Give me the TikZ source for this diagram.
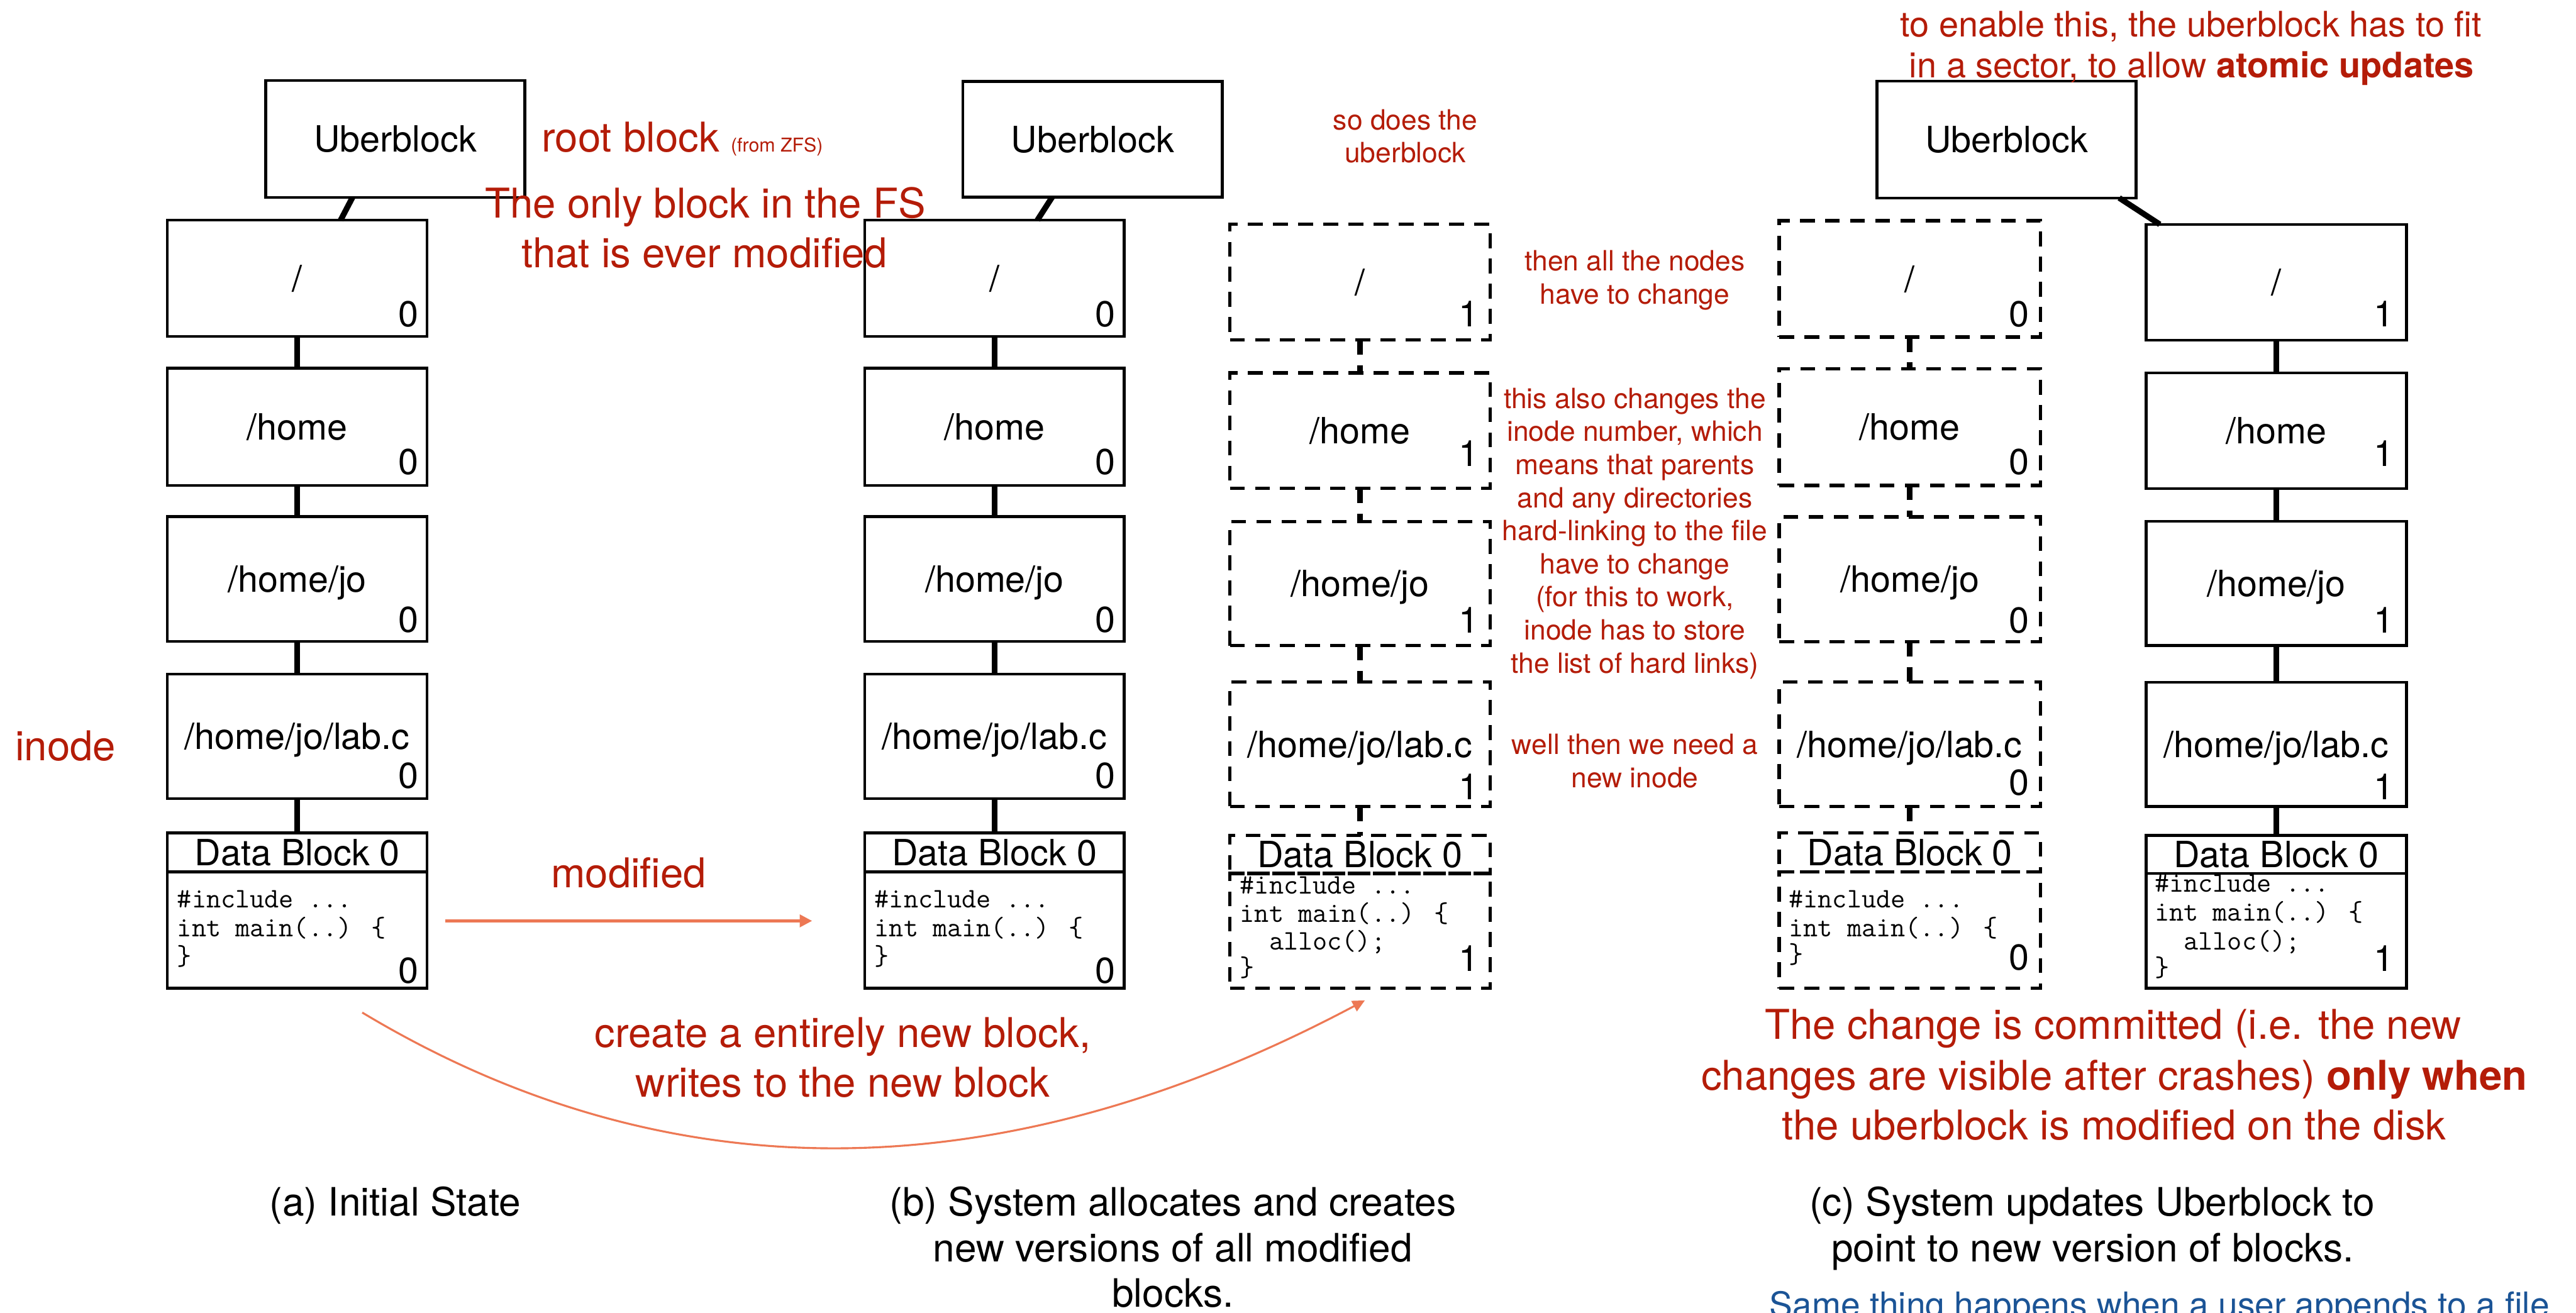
\documentclass[tikz,border=0pt]{standalone}
\usepackage{fontspec}
\setmainfont{TeX Gyre Heros}
\usetikzlibrary{fit,arrows.meta,calc}
\definecolor{annred}{RGB}{180,28,8}
\definecolor{arrorange}{RGB}{237,120,84}
\definecolor{noteblue}{RGB}{27,84,150}
\tikzset{
  box/.style={draw=black, line width=1.7pt, inner sep=0pt, outer sep=0pt},
  dbox/.style={draw=black, line width=2pt, dash pattern=on 9pt off 6.3pt, inner sep=0pt, outer sep=0pt},
  link/.style={line width=3.5pt},
  dlink/.style={line width=3.5pt, dash pattern=on 9pt off 6.3pt},
  lbl/.style={inner sep=0pt, font=\fontsize{22}{26}\selectfont, anchor=base},
  num/.style={inner sep=0pt, font=\fontsize{22}{26}\selectfont, anchor=base east},
  code/.style={inner sep=0pt, font=\fontsize{17.2}{20}\ttfamily, anchor=base west},
  note/.style={inner sep=0pt, text=annred, font=\fontsize{17}{20}\selectfont, anchor=base},
  bignote/.style={inner sep=0pt, text=annred, font=\fontsize{25}{30}\selectfont, anchor=base},
  topnote/.style={inner sep=0pt, text=annred, font=\fontsize{21.4}{25}\selectfont, anchor=base},
  capt/.style={inner sep=0pt, font=\fontsize{23.8}{28}\selectfont, anchor=base},
  bluenote/.style={inner sep=0pt, text=noteblue, font=\fontsize{21.1}{25}\selectfont, anchor=base},
  orangearrow/.style={draw=arrorange, line width=1.6pt, -{Triangle[length=7.5pt,width=7.5pt]}},
  curvearrow/.style={draw=arrorange, line width=1.2pt, -{Triangle[length=7.5pt,width=7pt]}},
}
% name, style, x1, y1, x2, y2, label, digit position, digit
\newcommand\ibox[9]{%
  \node[#2, fit={(#3,#4) (#5,#6)}] (#1) {};
  \node[lbl] (#1t) at ({(#3+#5)/2},{(#4+#6)/2+7.9}) {#7};
  \node[num] (#1n) at (#8) {#9};
}
% name, style, x1, ytop, x2, ysplit, ybottom, digit position, digit
\newcommand\datablk[9]{%
  \node[#2, fit={(#3,#4) (#5,#6)}] (#1h) {};
  \node[#2, fit={(#3,#6) (#5,#7)}] (#1b) {};
  \node[lbl] (#1ht) at ({(#3+#5)/2},{(#4+#6)/2+7.9}) {Data Block 0};
  \node[num] (#1n) at (#8) {#9};
}
\begin{document}
\begin{tikzpicture}[x=1pt,y=-1pt]
\useasboundingbox (0,0) rectangle (1568,799);
\fill[white] (0,0) rectangle (1568,799);

% ---------------- column (a)
\node[box, fit={(161.8,49.1) (319.5,120.2)}] (ua) {};
\node[lbl] (uat) at (240.65,92.5) {Uberblock};
\ibox{a1}{box}{101.9}{134}{260}{204.8}{/}{255,198.9}{0}
\ibox{a2}{box}{101.9}{224.2}{260}{295.5}{/home}{255,289}{0}
\ibox{a3}{box}{101.9}{314.5}{260}{390.4}{/home/jo}{255,385}{0}
\ibox{a4}{box}{101.9}{410.3}{260}{486.2}{/home/jo/lab.c}{255,480}{0}
\datablk{ad}{box}{101.9}{507}{260}{530.8}{601.6}{255,598.4}{0}
\node[code] (adc1) at (107.7,552.6) {\#include ...};
\node[code] (adc2) at (107.7,570.2) {int main(..) \{};
\node[code] (adc3) at (107.7,587.5) {\}};
\draw[link] ([xshift=-26.1pt]ua.south) -- ([xshift=26.4pt]a1.north);
\draw[link] (a1.south) -- (a2.north);
\draw[link] (a2.south) -- (a3.north);
\draw[link] (a3.south) -- (a4.north);
\draw[link] (a4.south) -- (adh.north);

% ---------------- column (b)
\node[box, fit={(586.1,49.5) (744,120)}] (ub) {};
\node[lbl] (ubt) at (665.05,92.7) {Uberblock};
\ibox{b1}{box}{526.4}{134}{684.3}{204.8}{/}{679.2,198.9}{0}
\ibox{b2}{box}{526.4}{224.2}{684.3}{295.5}{/home}{679.2,289}{0}
\ibox{b3}{box}{526.4}{314.5}{684.3}{390.4}{/home/jo}{679.2,385}{0}
\ibox{b4}{box}{526.4}{410.3}{684.3}{486.2}{/home/jo/lab.c}{679.2,480}{0}
\datablk{bd}{box}{526.4}{507}{684.3}{530.8}{601.6}{679.2,598.4}{0}
\node[code] (bdc1) at (532.2,552.6) {\#include ...};
\node[code] (bdc2) at (532.2,570.2) {int main(..) \{};
\node[code] (bdc3) at (532.2,587.5) {\}};
\draw[link] ([xshift=-24.6pt]ub.south) -- ([xshift=26.1pt]b1.north);
\draw[link] (b1.south) -- (b2.north);
\draw[link] (b2.south) -- (b3.north);
\draw[link] (b3.south) -- (b4.north);
\draw[link] (b4.south) -- (bdh.north);

% ---------------- column (b') new dashed copies
\ibox{p1}{dbox}{748.6}{136.6}{907}{207}{/}{900.5,198.7}{1}
\ibox{p2}{dbox}{748.6}{227}{907}{297.4}{/home}{900.5,283.9}{1}
\ibox{p3}{dbox}{748.6}{317.4}{907}{393}{/home/jo}{900.5,385.3}{1}
\ibox{p4}{dbox}{748.6}{415.3}{907}{491}{/home/jo/lab.c}{900.5,486.7}{1}
\datablk{pd}{dbox}{748.6}{508.6}{907}{531.7}{601.6}{900.5,591.3}{1}
\node[code] (pdc1) at (754.6,544) {\#include ...};
\node[code] (pdc2) at (754.6,561.3) {int main(..) \{};
\node[code] (pdc3) at (754.6,578.4) {\hphantom{xx}alloc();};
\node[code] (pdc4) at (754.6,594.5) {\}};
\draw[dlink] (p1.south) -- (p2.north);
\draw[dlink] (p2.south) -- (p3.north);
\draw[dlink] (p3.south) -- (p4.north);
\draw[dlink] (p4.south) -- (pdh.north);

% ---------------- column (c) old dashed blocks
\ibox{q1}{dbox}{1083}{134.4}{1242}{205.2}{/}{1235.5,198.7}{0}
\ibox{q2}{dbox}{1083}{224.4}{1242}{295.5}{/home}{1235.5,288.8}{0}
\ibox{q3}{dbox}{1083}{314.7}{1242}{390.7}{/home/jo}{1235.5,385.3}{0}
\ibox{q4}{dbox}{1083}{415.3}{1242}{491}{/home/jo/lab.c}{1235.5,484}{0}
\datablk{qd}{dbox}{1083}{507}{1242}{530.8}{601.6}{1235.5,590.5}{0}
\node[code] (qdc1) at (1088.7,552.6) {\#include ...};
\node[code] (qdc2) at (1088.7,570.3) {int main(..) \{};
\node[code] (qdc3) at (1088.7,586.4) {\}};
\draw[dlink] (q1.south) -- (q2.north);
\draw[dlink] (q2.south) -- (q3.north);
\draw[dlink] (q3.south) -- (q4.north);
\draw[dlink] (q4.south) -- (qdh.north);

% ---------------- column (c) new solid blocks
\node[box, fit={(1142.5,49.3) (1300.2,120.5)}] (uc) {};
\node[lbl] (uct) at (1221.35,92.8) {Uberblock};
\ibox{r1}{box}{1306.3}{136.6}{1464.8}{207}{/}{1457.3,198.7}{1}
\ibox{r2}{box}{1306.3}{227}{1464.8}{297.4}{/home}{1457.3,283.9}{1}
\ibox{r3}{box}{1306.3}{317.4}{1464.8}{393}{/home/jo}{1457.3,385.3}{1}
\ibox{r4}{box}{1306.3}{415.3}{1464.8}{491}{/home/jo/lab.c}{1457.3,486.7}{1}
\datablk{rd}{box}{1306.3}{508.6}{1464.8}{531.7}{601.6}{1457.3,591.3}{1}
\node[code] (rdc1) at (1311.4,543) {\#include ...};
\node[code] (rdc2) at (1311.4,560.7) {int main(..) \{};
\node[code] (rdc3) at (1311.4,578.4) {\hphantom{xx}alloc();};
\node[code] (rdc4) at (1311.4,594.5) {\}};
\draw[link] ([xshift=68.6pt]uc.south) -- ([xshift=-70.9pt]r1.north);
\draw[link] (r1.south) -- (r2.north);
\draw[link] (r2.south) -- (r3.north);
\draw[link] (r3.south) -- (r4.north);
\draw[link] (r4.south) -- (rdh.north);

% ---------------- arrows
\coordinate (modA) at (271.2,560.6);
\coordinate (modB) at (494.3,560.6);
\draw[orangearrow] (modA) -- (modB);
\coordinate (crA) at (220.5,616.4);
\coordinate (crB) at (830.8,609);
\draw[curvearrow] (crA) .. controls (407,728.5) and (610.5,726) .. (crB);

% ---------------- annotations
\node[bignote, anchor=base west] (root) at (329.6,92.4) {root block {\fontsize{11.6}{14}\selectfont(from ZFS)}};
\node[bignote] (only1) at (429.4,132.8) {The only block in the FS};
\node[bignote] (only2) at (428.9,163) {that is ever modified};
\node[bignote] (inode) at (39.9,463.2) {inode};
\node[bignote] (modif) at (382.7,540.5) {modified};
\node[bignote] (creat1) at (513,637.4) {create a entirely new block,};
\node[bignote] (creat2) at (513,668) {writes to the new block};

\node[note] (sod1) at (855.4,79) {so does the};
\node[note] (sod2) at (855.4,99.1) {uberblock};
\node[note] (then1) at (995.1,164.9) {then all the nodes};
\node[note] (then2) at (995.1,185.1) {have to change};
\node[note] (hl1) at (995.1,248.5) {this also changes the};
\node[note] (hl2) at (995.1,268.65) {inode number, which};
\node[note] (hl3) at (995.1,288.8) {means that parents};
\node[note] (hl4) at (995.1,308.95) {and any directories};
\node[note] (hl5) at (995.1,329.1) {hard-linking to the file};
\node[note] (hl6) at (995.1,349.25) {have to change};
\node[note] (hl7) at (995.1,369.4) {(for this to work,};
\node[note] (hl8) at (995.1,389.55) {inode has to store};
\node[note] (hl9) at (995.1,409.7) {the list of hard links)};
\node[note] (well1) at (995.1,459.3) {well then we need a};
\node[note] (well2) at (995.1,479.3) {new inode};

\node[topnote] (en1) at (1333.7,22.3) {to enable this, the uberblock has to fit};
\node[topnote] (en2) at (1334,47.4) {in a sector, to allow \textbf{atomic updates}};

\node[bignote] (com1) at (1286.3,632.5) {The change is committed (i.e. the new};
\node[bignote] (com2) at (1287,663.5) {changes are visible after crashes) \textbf{only when}};
\node[bignote] (com3) at (1286.8,694) {the uberblock is modified on the disk};

% ---------------- captions
\node[capt] (capa) at (240.6,740) {(a) Initial State};
\node[capt] (capb1) at (713.9,740) {(b) System allocates and creates};
\node[capt] (capb2) at (713.9,768.1) {new versions of all modified};
\node[capt] (capb3) at (713.9,795.5) {blocks.};
\node[capt] (capc1) at (1273.4,740.2) {(c) System updates Uberblock to};
\node[capt] (capc2) at (1273.8,768) {point to new version of blocks.};
\node[bluenote] (same) at (1314.5,801.7) {Same thing happens when a user appends to a file};
\end{tikzpicture}
\end{document}
